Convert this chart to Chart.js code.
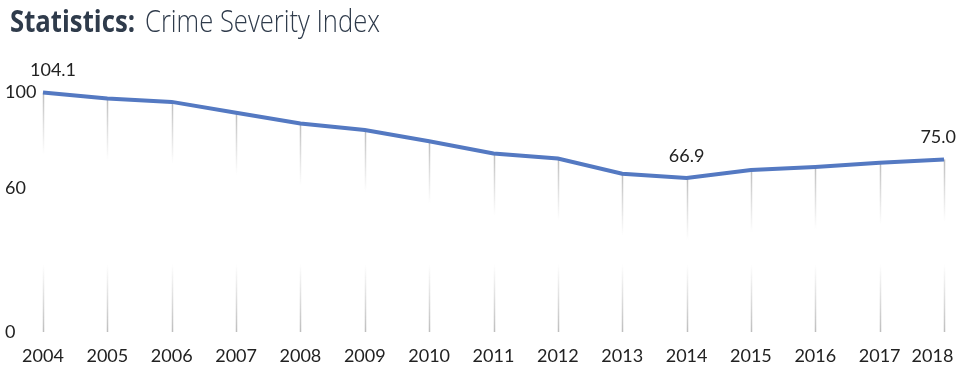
<!DOCTYPE html>
<html>
<head>
<meta charset="utf-8">
<script src="https://cdn.jsdelivr.net/npm/chart.js@4.4.1/dist/chart.umd.min.js"></script>
<style>
  body { margin: 0; background: #fff; }
  #wrap { position: relative; width: 960px; height: 365px; overflow: hidden; }
  .ttl { position: absolute; top: 0; font-family: "Open Sans"; font-size: 31px; line-height: 40px;
         color: #2f3b4b; white-space: nowrap; transform-origin: 0 0; z-index: 2; }
  #t1 { left: 10px; font-weight: 700; }
  #t2 { left: 145px; font-weight: 300; }
  canvas { position: absolute; left: 0; top: 0; }
</style>
</head>
<body>
<div id="wrap">
  <span class="ttl" id="t1">Statistics:</span>
  <span class="ttl" id="t2">Crime Severity Index</span>
  <canvas id="graph1" width="960" height="365"></canvas>
</div>
<script>
const years = ["2004","2005","2006","2007","2008","2009","2010","2011","2012","2013","2014","2015","2016","2017","2018"];
const csi = [104.1, 101.5, 100.0, 95.3, 90.6, 87.8, 82.9, 77.6, 75.4, 68.8, 66.9, 70.4, 71.7, 73.6, 75.0];
const yTicks = [0, 60, 100];
const labelledYears = ["2004", "2014", "2018"];

// squeeze title pieces to the narrow face of the original
function fitTitle(id, w) {
  const el = document.getElementById(id);
  el.style.transform = "scaleX(" + (w / el.getBoundingClientRect().width) + ")";
}
fitTitle("t1", 125);
fitTitle("t2", 235);

const textColor = "#222222";
const tickFont = { family: "Lato", size: 18 };

// faded drop lines under each point
const dropLines = {
  id: "dropLines",
  beforeDatasetsDraw(chart) {
    const ctx = chart.ctx;
    const bottom = chart.scales.y.getPixelForValue(0);
    chart.getDatasetMeta(0).data.forEach(function(pt) {
      const x = Math.round(pt.x) + 0.5;
      let g = ctx.createLinearGradient(0, pt.y, 0, pt.y + 62);
      g.addColorStop(0, "rgba(190,190,190,1)");
      g.addColorStop(1, "rgba(190,190,190,0)");
      ctx.save();
      ctx.lineWidth = 1.5;
      ctx.strokeStyle = g;
      ctx.beginPath();
      ctx.moveTo(x, pt.y);
      ctx.lineTo(x, pt.y + 62);
      ctx.stroke();
      g = ctx.createLinearGradient(0, bottom - 68, 0, bottom);
      g.addColorStop(0, "rgba(190,190,190,0)");
      g.addColorStop(1, "rgba(190,190,190,1)");
      ctx.strokeStyle = g;
      ctx.beginPath();
      ctx.moveTo(x, bottom - 68);
      ctx.lineTo(x, bottom);
      ctx.stroke();
      ctx.restore();
    });
  }
};

const pointLabels = {
  id: "pointLabels",
  afterDatasetsDraw(chart) {
    const ctx = chart.ctx;
    ctx.save();
    ctx.font = "18px Lato";
    ctx.fillStyle = textColor;
    ctx.textAlign = "center";
    ctx.textBaseline = "middle";
    chart.getDatasetMeta(0).data.forEach(function(pt, i) {
      if (!labelledYears.includes(years[i])) return;
      const txt = csi[i].toFixed(1);
      const half = ctx.measureText(txt).width / 2;
      const x = Math.min(Math.max(pt.x, half + 30), chart.width - half - 4);
      ctx.fillText(txt, x, pt.y - 22);
    });
    ctx.restore();
  }
};

new Chart(document.getElementById("graph1"), {
  type: "line",
  data: {
    labels: years,
    datasets: [{
      data: csi,
      borderColor: "#5479c2",
      borderWidth: 4,
      pointRadius: 0,
      tension: 0,
      fill: false
    }]
  },
  options: {
    responsive: false,
    animation: false,
    layout: { padding: { top: 60, left: 5, right: 0, bottom: 0 } },
    plugins: { legend: { display: false }, tooltip: { enabled: false } },
    scales: {
      x: {
        grid: { display: false, drawTicks: false },
        border: { display: false },
        afterFit: function(scale) {
          scale.height = 33;
          scale.paddingLeft = 0;
          scale.paddingRight = 16;
        },
        ticks: {
          color: textColor, font: tickFont, padding: 13, maxRotation: 0, autoSkip: false,
          // keep the last year inside the canvas
          callback: function(v, i) {
            return i === years.length - 1 ? years[i] + "     " : years[i];
          }
        }
      },
      y: {
        display: false,
        min: 0,
        max: 118.2
      },
      y2: {
        position: "left",
        min: 0,
        max: 113.6,
        grid: { display: false, drawTicks: false },
        border: { display: false },
        afterBuildTicks: function(scale) {
          scale.ticks = yTicks.map(function(v) { return { value: v }; });
        },
        afterFit: function(scale) {
          scale.width = 38;
          scale.paddingTop = 0;
          scale.paddingBottom = 0;
        },
        ticks: { color: textColor, font: tickFont, crossAlign: "far", padding: 0 }
      }
    }
  },
  plugins: [dropLines, pointLabels]
});
</script>
</body>
</html>
